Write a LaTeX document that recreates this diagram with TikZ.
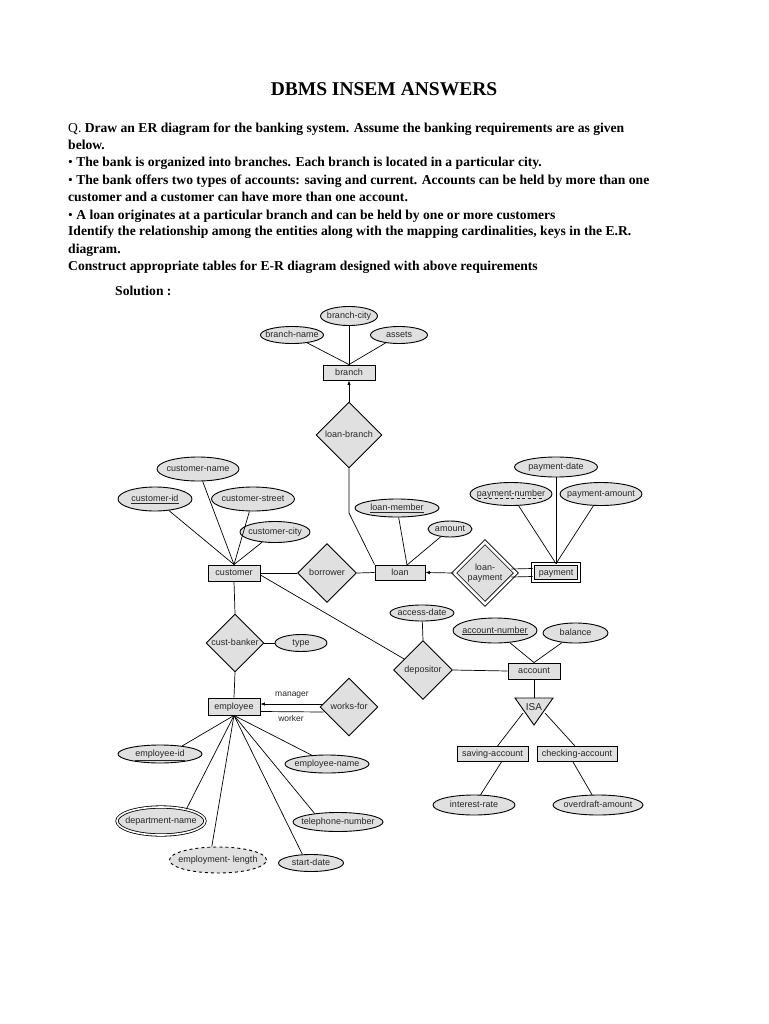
\documentclass[tikz,border=0pt]{standalone}
\usepackage{fontspec}
\setmainfont{Liberation Serif}
\setsansfont{Liberation Sans}
\usetikzlibrary{shapes.geometric,arrows.meta,calc}
\definecolor{shade}{gray}{0.88}
\begin{document}
\begin{tikzpicture}[x=1pt,y=-1pt,
  every node/.style={inner sep=0pt},
  body/.style={anchor=base west, font=\fontsize{13.6}{16}\selectfont\bfseries},
  diag/.style={font=\sffamily\fontsize{9}{10}\selectfont, text=black!85},
  zerow/.style={text height=6.6pt, text depth=1.6pt, execute at begin node={\hbox to 0pt\bgroup\hss}, execute at end node={\hss\egroup}},
  attr/.style n args={2}{diag, zerow, ellipse, draw, fill=shade, line width=0.9pt, minimum width=#1, minimum height=#2},
  ent/.style n args={2}{diag, zerow, rectangle, draw, fill=shade, line width=0.9pt, minimum width=#1, minimum height=#2},
  rel/.style={diag, zerow, diamond, aspect=1, draw, fill=shade, line width=0.9pt, minimum width=#1, minimum height=#1},
  conn/.style={line width=0.7pt},
  lbl/.style={diag, font=\sffamily\fontsize{8.5}{10}\selectfont},
]
\fill[white] (0,0) rectangle (768,1024);
\useasboundingbox (0,0) rectangle (768,1024);

% ---------- text ----------
\node[anchor=base, font=\fontsize{19.5}{22}\selectfont\bfseries] (title) at (384,96) {DBMS INSEM ANSWERS};
\node[body] (q1) at (68,132.5) {{\mdseries Q.} Draw an ER diagram for the banking system. Assume the banking requirements are as given};
\node[body] (q2) at (68,150) {below.};
\node[body] (q3) at (68,167) {{\mdseries •} The bank is organized into branches. Each branch is located in a particular city.};
\node[body] (q4) at (68,184.5) {{\mdseries •} The bank offers two types of accounts: saving and current. Accounts can be held by more than one};
\node[body] (q5) at (68,201.5) {customer and a customer can have more than one account.};
\node[body] (q6) at (68,219) {{\mdseries •} A loan originates at a particular branch and can be held by one or more customers};
\node[body] (q7) at (68,236) {Identify the relationship among the entities along with the mapping cardinalities, keys in the E.R.};
\node[body] (q8) at (68,253.5) {diagram.};
\node[body] (q9) at (68,270.5) {Construct appropriate tables for E-R diagram designed with above requirements};
\node[body] (sol) at (115,295) {Solution :};

% ---------- branch ----------
\node[attr={57}{19}] (bcity) at (349,316) {branch-city};
\node[attr={63}{17}] (bname) at (292,335) {branch-name};
\node[attr={57}{17}] (assets) at (399,335) {assets};
\node[ent={52}{15}] (branch) at (349,372.5) {branch};
\node[rel=66] (lb) at (349,435) {loan-branch};

% ---------- customer ----------
\node[attr={82}{24}] (cname) at (198,469) {customer-name};
\node[attr={74}{24}] (cid) at (155,499) {\underline{customer-id}};
\node[attr={83}{24}] (cstreet) at (253,499) {customer-street};
\node[attr={70}{21}] (ccity) at (275,532) {customer-city};
\node[ent={52}{16}] (customer) at (234,573) {customer};
\node[rel=59] (borrower) at (327,573) {borrower};

% ---------- loan ----------
\node[attr={84}{18}] (lmember) at (397,508) {\underline{loan-member}};
\node[attr={44}{16}] (amount) at (450,529) {amount};
\node[ent={50}{15}] (loan) at (400,572.5) {loan};
\node[diag, diamond, aspect=1, draw, fill=shade, line width=0.8pt, double, double distance=2.6pt,
      minimum width=62, minimum height=62, align=center] (lp) at (485,573) {loan-\\payment};
\node[ent={46}{17}, double, double distance=1.8pt, line width=0.8pt] (payment) at (556,572.5) {payment};
\node[attr={83}{20}] (pdate) at (556,467) {payment-date};
\node[attr={82}{23}] (pnumber) at (511,494) {payment-number};
\draw[line width=0.5pt, dash pattern=on 3pt off 2.5pt, black!85] ($(pnumber.center)+(-33,4.5)$) -- ($(pnumber.center)+(33,4.5)$);
\node[attr={82}{23}] (pamount) at (601,494) {payment-amount};

% ---------- account ----------
\node[rel=59] (dep) at (423,670) {depositor};
\node[attr={64}{16}] (adate) at (422,613) {access-date};
\node[attr={84}{25}] (accnum) at (495,630.5) {\underline{account-number}};
\node[attr={65}{20}] (balance) at (575.5,633) {balance};
\node[ent={52}{16}] (account) at (534,671) {account};
\coordinate (isatl) at (515,698);
\coordinate (isatr) at (553,698);
\coordinate (isab) at (534,725);
\coordinate (isatop) at (534,698);
\filldraw[fill=shade, line width=0.9pt, line join=miter] (isatl) -- (isatr) -- (isab) -- cycle;
\node[diag, font=\sffamily\fontsize{10}{11}\selectfont] (isa) at (534,707) {ISA};
\node[ent={71}{15}] (sav) at (492.5,754) {saving-account};
\node[ent={80}{15}] (chk) at (577,754) {checking-account};
\node[attr={82}{20}] (irate) at (474,805) {interest-rate};
\node[attr={90}{20}] (odraft) at (598,805) {overdraft-amount};

% ---------- employee ----------
\node[rel=58] (cb) at (235,643) {cust-banker};
\node[attr={52}{17}] (type) at (301,643) {type};
\node[ent={52}{17}] (employee) at (234,706.5) {employee};
\node[rel=58] (wf) at (349,707) {works-for};
\node[lbl] (mgr) at (292,695) {manager};
\node[lbl] (wkr) at (291,718) {worker};
\node[attr={84}{18}] (empid) at (160,754) {\underline{employee-id}};
\node[attr={84}{18}] (empname) at (327,764) {employee-name};
\node[attr={88}{28}, double, double distance=1.6pt, line width=0.8pt] (dept) at (161,821) {department-name};
\node[attr={90}{19}] (tel) at (338,822) {telephone-number};
\node[attr={97}{26}, dashed] (emplen) at (218,860) {employment- length};
\node[attr={65}{17}] (sdate) at (311,863) {start-date};

% ---------- connectors ----------
\begin{scope}[conn]
\draw (bname) -- (branch.north);
\draw (bcity) -- (branch.north);
\draw (assets) -- (branch.north);
\draw[-{Latex[length=4.5pt,width=3.5pt]}] (lb.north) -- (branch.south);
\coordinate (lbbend) at (349,513);
\draw (lb.south) -- (lbbend) -- (loan.north west);

\draw (cname) -- (customer.north);
\draw (cid) -- (customer.north);
\draw (cstreet) -- (customer.north);
\draw (ccity) -- (customer.north);
\draw (customer.east) -- (borrower.west);
\draw (borrower.east) -- (loan.west);

\coordinate (loantop) at (407,565);
\draw (lmember) -- (loantop);
\draw (amount) -- (loantop);
\draw[-{Latex[length=4.5pt,width=3.5pt]}] (lp.west) -- (loan.east);
\draw ($(lp.east)+(-5,-4)$) -- ($(payment.west)+(0,-4)$);
\draw ($(lp.east)+(-5,4)$) -- ($(payment.west)+(0,4)$);
\draw (pdate) -- (payment.north);
\draw (pnumber) -- (payment.north);
\draw (pamount) -- (payment.north);

\draw ($(customer.east)+(0,2)$) -- (dep);
\draw (adate) -- (dep.north);
\draw (dep.east) -- (account.west);
\draw (accnum) -- (account.north);
\draw (balance) -- (account.north);
\draw (account.south) -- (isatop);
\coordinate (isal) at (523,713);
\coordinate (isar) at (545,713);
\draw (isal) -- ($(sav.north)+(5,0)$);
\draw (isar) -- ($(chk.north)+(-2,0)$);
\draw ($(sav.south)+(9,0)$) -- (irate);
\draw ($(chk.south)+(-4,0)$) -- (odraft);

\draw (customer.south) -- (cb.north);
\draw (cb.south) -- (employee.north);
\draw (cb.east) -- (type);
\draw[-{Latex[length=4.5pt,width=3.5pt]}] ($(wf.west)+(3,-3)$) -- ($(employee.east)+(0,-2.5)$);
\draw ($(wf.west)+(4,5)$) -- ($(employee.east)+(0,5)$);
\draw (employee.south) -- (empid.20);
\draw (employee.south) -- (empname.150);
\draw (employee.south) -- (dept.25);
\draw (employee.south) -- (tel.160);
\draw (employee.south) -- (emplen.115);
\draw (employee.south) -- (sdate.135);
\end{scope}
\end{tikzpicture}
\end{document}
